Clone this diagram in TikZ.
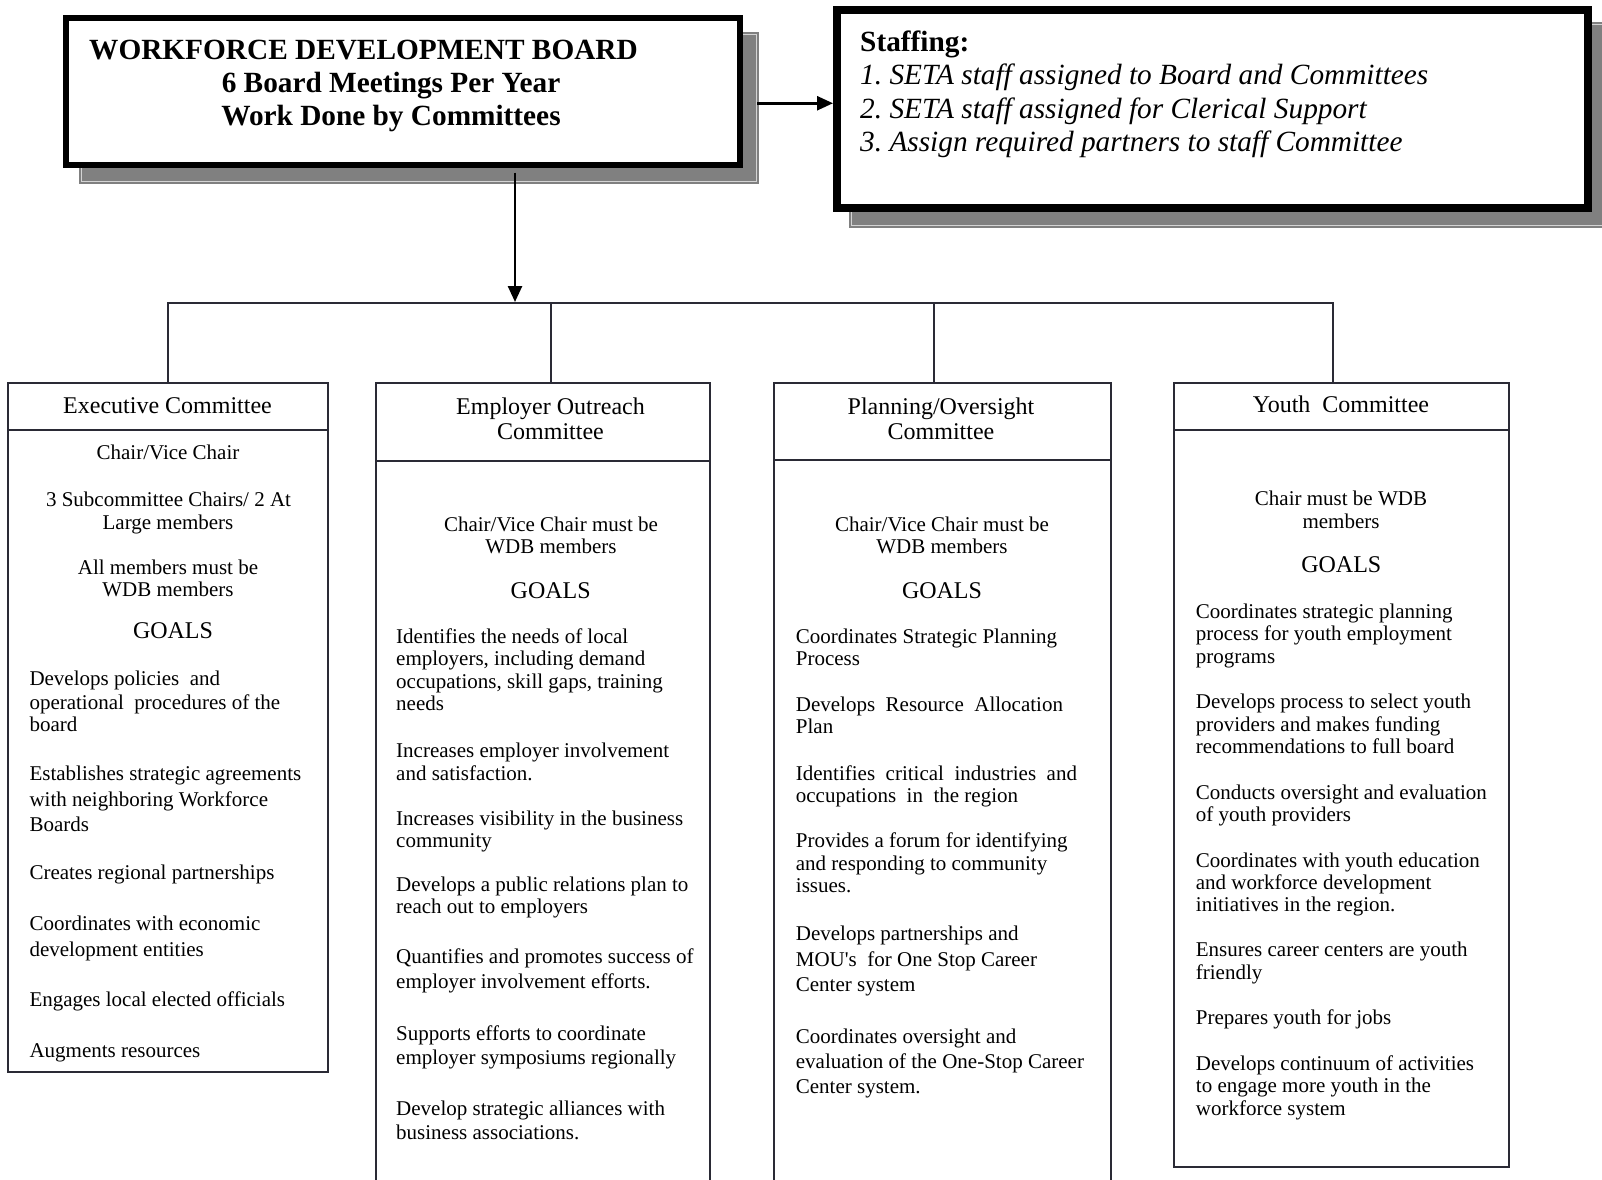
\documentclass[tikz,border=0pt]{standalone}
\usepackage{fontspec}
\setmainfont{Liberation Serif}
\usetikzlibrary{arrows.meta}
\frenchspacing
\definecolor{shadowgray}{HTML}{808080}
\definecolor{shadowline}{HTML}{D4D4D4}
\definecolor{boxline}{HTML}{2A2A35}
\tikzset{
  blackbox/.style={draw=black, fill=white, inner sep=0pt},
  cbox/.style={draw=boxline, line width=2pt, fill=white, inner sep=0pt},
  conn/.style={draw=boxline, line width=2pt},
  arrowline/.style={draw=black, line width=2.5pt, -{Triangle[length=16pt,width=14pt]}},
  body/.style={font=\fontsize{21}{25}\selectfont, inner sep=0pt, yshift=-6pt},
  head/.style={font=\fontsize{24}{26}\selectfont, inner sep=0pt, anchor=mid, yshift=-7pt},
  titletxt/.style={font=\fontsize{29.3}{33}\selectfont\bfseries, inner sep=0pt},
  stafftxt/.style={font=\fontsize{29.3}{33}\selectfont\itshape, inner sep=0pt, anchor=base west},
}
\newcommand\bodyL[4]{\node[body, anchor=mid west] (#1) at (#2,#3) {#4};}
\newcommand\bodyC[4]{\node[body, anchor=mid] (#1) at (#2,#3) {#4};}

\begin{document}
\begin{tikzpicture}[x=1pt,y=-1pt]
\clip (0,0) rectangle (1602,1179);
\fill[white] (0,0) rectangle (1602,1179);

% ---------- shadows ----------
\fill[shadowgray] (79,31.7) rectangle (759,184);
\draw[shadowline, line width=1.2pt] (81.5,34.2) rectangle (756.5,181.5);
\fill[shadowgray] (848.6,21.7) rectangle (1640,228);
\draw[shadowline, line width=1.2pt] (851.1,24.2) rectangle (1637,225.5);

% ---------- top boxes ----------
\node[blackbox, line width=6pt, minimum width=674pt, minimum height=146.5pt] (board) at (403,91.25) {};
\node[titletxt, anchor=base west] (bt1) at (89,59.3) {WORKFORCE DEVELOPMENT BOARD};
\node[titletxt, anchor=base] (bt2) at (391,92) {6 Board Meetings Per Year};
\node[titletxt, anchor=base] (bt3) at (391,125) {Work Done by Committees};

\node[blackbox, line width=8pt, minimum width=751pt, minimum height=197.7pt] (staff) at (1212.5,108.85) {};
\node[titletxt, anchor=base west] (st0) at (860,51) {Staffing:};
\node[stafftxt] (st1) at (860,84) {1. SETA staff assigned to Board and Committees};
\node[stafftxt] (st2) at (860,118) {2. SETA staff assigned for Clerical Support};
\node[stafftxt] (st3) at (860,151) {3. Assign required partners to staff Committee};

% ---------- committee boxes ----------
\node[cbox, minimum width=320pt, minimum height=642pt] (exec-b) at (168,751) {};
\node[cbox, minimum width=320pt, minimum height=47pt] (exec-h) at (168,406.5) {};
\node[cbox, minimum width=334.5pt, minimum height=739pt] (emp-b) at (542.75,830.5) {};
\node[cbox, minimum width=334.5pt, minimum height=78pt] (emp-h) at (542.75,422) {};
\node[cbox, minimum width=336.7pt, minimum height=740pt] (plan-b) at (942.35,830) {};
\node[cbox, minimum width=336.7pt, minimum height=77pt] (plan-h) at (942.35,421.5) {};
\node[cbox, minimum width=335.3pt, minimum height=737.2pt] (youth-b) at (1341.65,798.1) {};
\node[cbox, minimum width=335.3pt, minimum height=46.5pt] (youth-h) at (1341.65,406.25) {};

% ---------- connectors ----------
\coordinate (bus) at (515,303);
\draw[conn] (exec-h.north) -- (exec-h.north |- bus) -- ([xshift=-8.35pt]youth-h.north |- bus) -- ([xshift=-8.35pt]youth-h.north);
\draw[conn] ([xshift=8pt]emp-h.north) -- ([xshift=8pt]emp-h.north |- bus);
\draw[conn] ([xshift=-8.35pt]plan-h.north) -- ([xshift=-8.35pt]plan-h.north |- bus);
\draw[arrowline] ([yshift=-5pt]board.south -| bus) -- ([yshift=1pt]bus);
\draw[arrowline] ([shift={(14pt,-12pt)}]board.east) -- ([yshift=5.6pt]staff.west);

% ---------- headers ----------
\node[head] (exec-t) at (167.5,404) {Executive Committee};
\node[head] (emp-t1) at (550.5,405) {Employer Outreach};
\node[head] (emp-t2) at (550.5,430) {Committee};
\node[head] (plan-t1) at (941,405) {Planning/Oversight};
\node[head] (plan-t2) at (941,430) {Committee};
\node[head] (youth-t) at (1341,403.5) {Youth\ \ Committee};

% ---------- Executive ----------
\bodyC{ex1}{168}{451.6}{Chair/Vice Chair}
\bodyC{ex2}{168.5}{498.6}{3 Subcommittee Chairs/ 2 At}
\bodyC{ex3}{168}{521}{Large members}
\bodyC{ex4}{168}{566}{All members must be}
\bodyC{ex5}{168}{588.5}{WDB members}
\node[head] (ex6) at (173,629.4) {GOALS};
\bodyL{ex7}{29.3}{677.4}{Develops policies\ \ and}
\bodyL{ex8}{29.3}{701}{operational\ \ procedures of the}
\bodyL{ex9}{29.3}{723.4}{board}
\bodyL{ex10}{29.3}{772.4}{Establishes strategic agreements}
\bodyL{ex11}{29.3}{798}{with neighboring Workforce}
\bodyL{ex12}{29.3}{823.5}{Boards}
\bodyL{ex13}{29.3}{871.5}{Creates regional partnerships}
\bodyL{ex14}{29.3}{922.6}{Coordinates with economic}
\bodyL{ex15}{29.3}{948}{development entities}
\bodyL{ex16}{29.3}{998}{Engages local elected officials}
\bodyL{ex17}{29.3}{1049.3}{Augments resources}

% ---------- Employer Outreach ----------
\bodyC{em1}{551}{523}{Chair/Vice Chair must be}
\bodyC{em2}{551}{545.6}{WDB members}
\node[head] (em3) at (550.7,589) {GOALS};
\bodyL{em4}{396}{635}{Identifies the needs of local}
\bodyL{em5}{396}{657.3}{employers, including demand}
\bodyL{em6}{396}{680}{occupations, skill gaps, training}
\bodyL{em7}{396}{702}{needs}
\bodyL{em8}{396}{749}{Increases employer involvement}
\bodyL{em9}{396}{771.7}{and satisfaction.}
\bodyL{em10}{396}{816.7}{Increases visibility in the business}
\bodyL{em11}{396}{839.3}{community}
\bodyL{em12}{396}{883.3}{Develops a public relations plan to}
\bodyL{em13}{396}{905}{reach out to employers}
\bodyL{em14}{396}{955}{Quantifies and promotes success of}
\bodyL{em15}{396}{980.5}{employer involvement efforts.}
\bodyL{em16}{396}{1031.7}{Supports efforts to coordinate}
\bodyL{em17}{396}{1056}{employer symposiums regionally}
\bodyL{em18}{396}{1106.7}{Develop strategic alliances with}
\bodyL{em19}{396}{1131.5}{business associations.}

% ---------- Planning/Oversight ----------
\bodyC{pl1}{942}{523.3}{Chair/Vice Chair must be}
\bodyC{pl2}{942}{545}{WDB members}
\node[head] (pl3) at (942,589) {GOALS};
\bodyL{pl4}{795.7}{635}{Coordinates Strategic Planning}
\bodyL{pl5}{795.7}{657.3}{Process}
\bodyL{pl6}{795.7}{702.7}{Develops\ \ Resource\ \ Allocation}
\bodyL{pl7}{795.7}{725}{Plan}
\bodyL{pl8}{795.7}{771.7}{Identifies\ \ critical\ \ industries\ \ and}
\bodyL{pl9}{795.7}{794}{occupations\ \ in\ \ the region}
\bodyL{pl10}{795.7}{839.3}{Provides a forum for identifying}
\bodyL{pl11}{795.7}{861.7}{and responding to community}
\bodyL{pl12}{795.7}{884}{issues.}
\bodyL{pl13}{795.7}{931.7}{Develops partnerships and}
\bodyL{pl14}{795.7}{957.7}{MOU\textquotesingle s\ \ for One Stop Career}
\bodyL{pl15}{795.7}{982.7}{Center system}
\bodyL{pl16}{795.7}{1035}{Coordinates oversight and}
\bodyL{pl17}{795.7}{1060}{evaluation of the One-Stop Career}
\bodyL{pl18}{795.7}{1085}{Center system.}

% ---------- Youth ----------
\bodyC{yo1}{1341}{496.7}{Chair must be WDB}
\bodyC{yo2}{1341}{520}{members}
\node[head] (yo3) at (1341.3,563.3) {GOALS};
\bodyL{yo4}{1195.7}{610}{Coordinates strategic planning}
\bodyL{yo5}{1195.7}{632.3}{process for youth employment}
\bodyL{yo6}{1195.7}{655}{programs}
\bodyL{yo7}{1195.7}{700}{Develops process to select youth}
\bodyL{yo8}{1195.7}{722.7}{providers and makes funding}
\bodyL{yo9}{1195.7}{745}{recommendations to full board}
\bodyL{yo10}{1195.7}{790.7}{Conducts oversight and evaluation}
\bodyL{yo11}{1195.7}{813.3}{of youth providers}
\bodyL{yo12}{1195.7}{859}{Coordinates with youth education}
\bodyL{yo13}{1195.7}{880.7}{and workforce development}
\bodyL{yo14}{1195.7}{902.7}{initiatives in the region.}
\bodyL{yo15}{1195.7}{948.3}{Ensures career centers are youth}
\bodyL{yo16}{1195.7}{970.7}{friendly}
\bodyL{yo17}{1195.7}{1015.7}{Prepares youth for jobs}
\bodyL{yo18}{1195.7}{1061.7}{Develops continuum of activities}
\bodyL{yo19}{1195.7}{1084.3}{to engage more youth in the}
\bodyL{yo20}{1195.7}{1107.3}{workforce system}
\end{tikzpicture}
\end{document}
